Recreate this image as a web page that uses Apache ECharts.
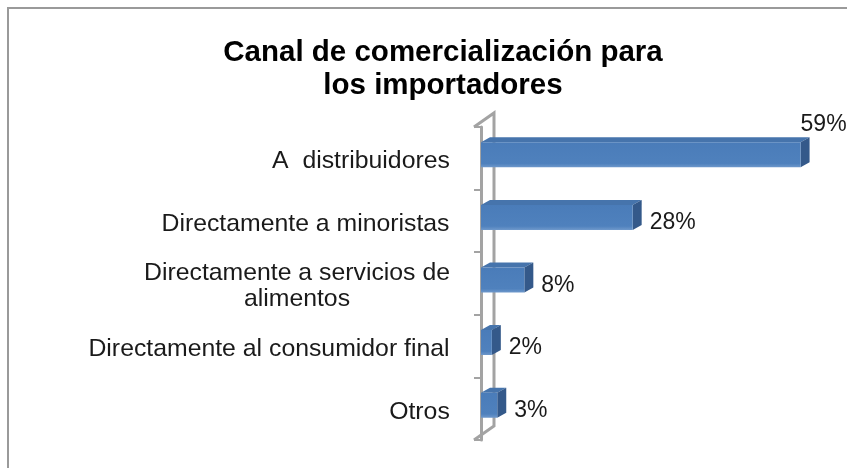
<!DOCTYPE html>
<html>
<head>
<meta charset="utf-8">
<script src="https://cdn.jsdelivr.net/npm/echarts@6/dist/echarts.min.js"></script>
<style>
  html, body { margin: 0; padding: 0; background: #ffffff; }
  #chart { width: 847px; height: 468px; }
</style>
</head>
<body>
<div id="chart"></div>
<script>
// Canales de comercialización (porcentaje de importadores)
const titleText = 'Canal de comercialización para\nlos importadores';
const categories = [
  'A  distribuidores',
  'Directamente a minoristas',
  'Directamente a servicios de\nalimentos',
  'Directamente al consumidor final',
  'Otros'
];
const shares = [59, 28, 8, 2, 3];

const FONT = '"Liberation Sans", Arial, sans-serif';
const LABEL_SIZE = 24.8;
const VALUE_SIZE = 23;
const FRONT = '#4F81BD';
const TOP = '#4674AC';
const SIDE = '#34598A';
const WALL = '#A3A3A3';
const DEPTH_X = 9;
const DEPTH_Y = 5;

const chart = echarts.init(document.getElementById('chart'), null, { renderer: 'canvas' });

// measure text so multi-line labels can be centred line by line
const measureCtx = document.createElement('canvas').getContext('2d');
measureCtx.font = LABEL_SIZE + 'px ' + FONT;
function textWidth(s) { return Math.ceil(measureCtx.measureText(s).width); }

const richStyles = {};
categories.forEach(function (cat, i) {
  const lines = cat.split('\n');
  const w = Math.max.apply(null, lines.map(textWidth));
  richStyles['l' + i] = {
    width: w, align: 'center', fontFamily: FONT, fontSize: LABEL_SIZE,
    lineHeight: 26, color: '#1a1a1a'
  };
});

function renderBar(params, api) {
  const cat = api.value(1);
  const val = api.value(0);
  const start = api.coord([0, cat]);
  const end = api.coord([val, cat]);
  const x0 = start[0];
  const x1 = end[0];
  const yc = start[1];
  const yTop = yc - 16;
  const h = 25;
  const children = [
    {
      type: 'polygon',
      shape: { points: [[x0, yTop], [x0 + DEPTH_X, yTop - DEPTH_Y], [x1 + DEPTH_X, yTop - DEPTH_Y], [x1, yTop]] },
      style: { fill: TOP }
    },
    {
      type: 'polygon',
      shape: { points: [[x1, yTop], [x1 + DEPTH_X, yTop - DEPTH_Y], [x1 + DEPTH_X, yTop + h - DEPTH_Y], [x1, yTop + h]] },
      style: { fill: SIDE }
    },
    {
      type: 'rect',
      shape: { x: x0, y: yTop, width: x1 - x0, height: h },
      style: {
        fill: new echarts.graphic.LinearGradient(0, 0, 0, 1, [
          { offset: 0, color: '#4A7CB9' },
          { offset: 0.85, color: FRONT },
          { offset: 1, color: '#6E98CB' }
        ])
      }
    }
  ];
  // value label: right of the bar, or above its end when there is no room
  const labelText = val + '%';
  const labelW = 46;
  let lx = x1 + DEPTH_X + 8;
  let ly = yc + 2;
  if (lx + labelW > api.getWidth()) {
    lx = x1;
    ly = yTop - DEPTH_Y - 13;
  }
  children.push({
    type: 'text',
    style: {
      x: lx, y: ly, text: labelText,
      fill: '#1a1a1a', font: VALUE_SIZE + 'px ' + FONT,
      verticalAlign: 'middle', align: 'left'
    }
  });
  return { type: 'group', children: children };
}

chart.setOption({
  animation: false,
  backgroundColor: '#ffffff',
  title: {
    text: titleText,
    left: 443,
    top: 36,
    textAlign: 'center',
    padding: 0,
    textStyle: {
      fontFamily: FONT, fontWeight: 'bold', fontSize: 29.5,
      lineHeight: 33, color: '#000000'
    }
  },
  grid: { left: 481, right: 41, top: 127, bottom: 28 },
  xAxis: {
    type: 'value', min: 0, max: 60, show: false
  },
  yAxis: {
    type: 'category',
    data: categories,
    inverse: true,
    offset: 7,
    axisLine: { show: true, lineStyle: { color: WALL, width: 3 } },
    axisTick: { show: true, length: 7, lineStyle: { color: WALL, width: 2 } },
    axisLabel: {
      margin: 24,
      padding: [6, 0, 0, 0],
      color: '#1a1a1a',
      fontFamily: FONT,
      fontSize: LABEL_SIZE,
      formatter: function (v, i) {
        return v.split('\n').map(function (l) { return '{l' + i + '|' + l + '}'; }).join('\n');
      },
      rich: richStyles
    },
    splitLine: { show: false }
  },
  series: [{
    type: 'custom',
    renderItem: renderBar,
    encode: { x: 0, y: 1 },
    data: shares.map(function (v, i) { return [v, i]; }),
    z: 3
  }]
});

// back wall of the plot area and the outer frame
(function () {
  const c0 = chart.convertToPixel({ yAxisIndex: 0 }, 0);
  const c1 = chart.convertToPixel({ yAxisIndex: 0 }, 1);
  const band = c1 - c0;
  const yTop = c0 - band / 2;
  const yBot = yTop + band * categories.length;
  const xFront = chart.convertToPixel({ xAxisIndex: 0 }, 0) - 7;
  const wx = 20, wy = 14;
  const lineStyle = { stroke: WALL, lineWidth: 3, fill: null };
  chart.setOption({
    graphic: [
      { type: 'polyline', z: 1, shape: { points: [[xFront, yTop], [xFront + wx, yTop - wy], [xFront + wx, yBot - wy], [xFront, yBot]] }, style: lineStyle },
      { type: 'rect', z: 0, shape: { x: 8, y: 8, width: 900, height: 520 }, style: { stroke: '#9a9a9a', lineWidth: 2, fill: null } }
    ]
  });
})();
</script>
</body>
</html>
